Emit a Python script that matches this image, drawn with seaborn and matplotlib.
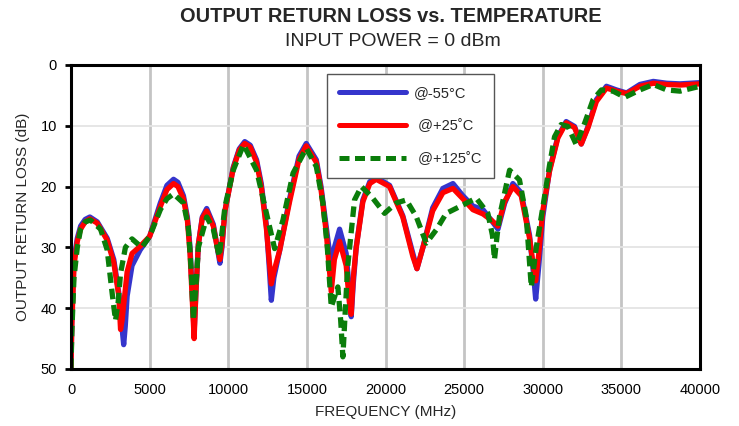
import matplotlib
matplotlib.use("Agg")
import matplotlib.pyplot as plt
import seaborn as sns
import pandas as pd
import numpy as np

# ---------------- data ----------------
freq_m55 = [0, 50, 190, 400, 610, 900, 1200, 1670, 2300, 2720, 3040, 3200, 3350, 3450, 3570, 3880,
            4400, 5000, 5680, 6100, 6520, 6800, 7150, 7400, 7570, 7700, 7830, 7950, 8100, 8350,
            8630, 9050, 9300, 9470, 9600, 9790, 10320, 10700, 11050, 11400, 11800, 12100, 12430,
            12600, 12740, 12900, 13270, 13900, 14500, 14960, 15600, 15900, 16230, 16550, 16750,
            17080, 17500, 17700, 17820, 17950, 18140, 18560, 19000, 19410, 20260, 21100, 21740,
            22000, 22380, 23000, 23650, 24290, 24920, 25560, 26200, 26720, 27150, 27570, 28100,
            28630, 29160, 29400, 29550, 29750, 30000, 30430, 30960, 31490, 32020, 32450, 32880,
            33410, 34050, 34690, 35330, 36180, 37030, 37880, 38730, 40000]
rl_m55 = [50, 42, 32, 28.5, 26.5, 25.4, 25.0, 25.8, 28.5, 32, 37.5, 42, 46, 43, 38, 33,
          30.4, 28.2, 22.7, 19.8, 18.8, 19.3, 21.5, 25, 30, 37, 44, 37, 29.5, 25,
          23.6, 26.2, 30, 32.6, 30, 24, 16.8, 13.8, 12.6, 13.2, 15.6, 19.5, 26.5,
          33, 38.7, 35, 30.5, 22, 15, 12.9, 15.6, 20, 26.6, 33, 30,
          27, 31, 37, 41.4, 36, 29.9, 22.2, 19.2, 18.5, 19.8, 24.8, 31,
          33.5, 30, 23.5, 20.3, 19.5, 21.5, 23.2, 23.8, 25.5, 27, 22.8, 19.5,
          21, 28, 34, 38.5, 33, 25, 17.3, 11.8, 9.3, 10.1, 13, 10.1,
          5.7, 3.5, 4.1, 4.6, 3.2, 2.7, 3.0, 3.1, 2.9]

freq_p25 = [0, 50, 190, 400, 610, 900, 1200, 1670, 2300, 2720, 3040, 3150, 3250, 3450, 3570, 3880,
            4400, 5000, 5680, 6100, 6520, 6800, 7150, 7400, 7570, 7700, 7830, 7950, 8100, 8350,
            8630, 9050, 9300, 9470, 9600, 9790, 10320, 10700, 11050, 11400, 11800, 12100, 12430,
            12600, 12740, 12900, 13270, 13900, 14500, 14960, 15600, 15900, 16230, 16550, 16750,
            17080, 17500, 17700, 17820, 17950, 18140, 18560, 19000, 19410, 20260, 21100, 21740,
            22000, 22380, 23000, 23650, 24290, 24920, 25560, 26200, 26720, 27150, 27570, 28100,
            28630, 29160, 29400, 29550, 29750, 30000, 30430, 30960, 31490, 32020, 32450, 32880,
            33410, 34050, 34690, 35330, 36180, 37030, 37880, 38730, 40000]
rl_p25 = [50, 43, 33, 29, 27, 25.8, 25.3, 26, 28.8, 32.5, 38, 43.5, 42, 37, 34, 31,
          29.8, 28.2, 23.3, 20.5, 19.5, 20, 22, 25.5, 31, 38, 45, 37, 29.5, 25.2,
          24, 26.5, 30, 32, 29.5, 24, 17, 14, 12.9, 13.5, 16, 20, 27,
          32, 36, 34, 30.5, 22.5, 15.5, 13.3, 16, 20.5, 27.5, 37.3, 32,
          29, 33, 39, 41, 35, 30, 22.5, 19.5, 18.8, 20, 25, 31.5,
          33.5, 30, 24, 21, 20.3, 22, 23.8, 24.5, 25.5, 26.5, 22.5, 20,
          21.5, 28.5, 33, 35.5, 31, 24, 17.5, 12, 9.5, 10.3, 13, 10.3,
          6, 3.8, 4.3, 4.7, 3.5, 3.0, 3.2, 3.3, 3.1]

freq_p125 = [0, 50, 190, 400, 610, 900, 1240, 1880, 2300, 2620, 2830, 3000, 3150, 3460, 3880,
             4500, 5000, 5680, 6100, 6520, 7150, 7460, 7650, 7780, 7950, 8100, 8630, 9050, 9430,
             9790, 10320, 10970, 11800, 12430, 12950, 13480, 14120, 14960, 15600, 16020, 16300,
             16550, 16970, 17150, 17290, 17450, 17600, 18030, 18460, 19100, 19940, 20680, 21320,
             21950, 22590, 23230, 23860, 24710, 25770, 26510, 26800, 26930, 27100, 27250, 27890,
             28520, 28950, 29270, 29590, 30010, 30430, 30750, 31170, 31600, 32130, 32660, 33200,
             33730, 34470, 35220, 36180, 37030, 37880, 38730, 40000]
rl_p125 = [50, 44, 35, 30, 27, 25.8, 25.5, 27, 30.4, 37.6, 42, 39, 34.3, 30, 28.6,
           30, 28.2, 23.8, 22, 21.2, 22.7, 26.6, 34, 42, 36, 30, 25, 27, 31.5,
           23.3, 17.3, 13.1, 17.3, 24.4, 30.2, 25.5, 17.8, 13.7, 16.7, 22.7, 30,
           39.8, 36.5, 42, 48, 40, 33, 22.2, 20, 21.6, 24.4, 22.7, 22.2,
           24.9, 29.3, 27.1, 24.4, 23.3, 21.9, 24.4, 28, 32, 28, 24.9, 17.3,
           18.9, 24.9, 36.5, 30, 23.3, 16.5, 11.8, 9.8, 10.1, 13.1, 9.6, 5.7,
           4.1, 4.3, 5.3, 4.1, 3.2, 4.1, 4.3, 3.5]

labels = ["@-55°C", " @+25˚C", " @+125˚C"]
x_ticks = [0, 5000, 10000, 15000, 20000, 25000, 30000, 35000, 40000]
y_ticks = [0, 10, 20, 30, 40, 50]

df = pd.concat([
    pd.DataFrame({"freq": freq_m55, "rl": rl_m55, "temp": labels[0]}),
    pd.DataFrame({"freq": freq_p25, "rl": rl_p25, "temp": labels[1]}),
    pd.DataFrame({"freq": freq_p125, "rl": rl_p125, "temp": labels[2]}),
], ignore_index=True)

# ---------------- plot ----------------
sns.set_theme(style="white")
plt.rcParams["font.family"] = ["Liberation Sans", "DejaVu Sans"]

fig = plt.figure(figsize=(7.39, 4.26), dpi=100)
ax = fig.add_axes([71 / 739, 1 - 369 / 426, 629 / 739, 304 / 426])

palette = {labels[0]: "#3535CC", labels[1]: "#FF0000", labels[2]: "#0A7D0A"}
dashes = {labels[0]: "", labels[1]: "", labels[2]: (2.0, 1.1)}

sns.lineplot(data=df, x="freq", y="rl", hue="temp", style="temp", palette=palette,
             dashes=dashes, estimator=None, sort=False, ax=ax, linewidth=3.8, legend=True)

for line in ax.get_lines():
    line.set_solid_capstyle("round")
    line.set_solid_joinstyle("round")
    line.set_dash_joinstyle("round")

ax.set_xlim(0, 40000)
ax.set_ylim(50, 0)
ax.set_xticks(x_ticks)
ax.set_yticks(y_ticks)
ax.set_xticklabels([str(v) for v in x_ticks], fontsize=10.5)
ax.set_yticklabels([str(v) for v in y_ticks], fontsize=10.5)

ax.grid(False)
for xv in x_ticks[1:-1]:
    ax.axvline(xv, color="#C4C4C4", linewidth=2.0, zorder=0)
for yv in y_ticks[1:-1]:
    ax.axhline(yv, color="#E4E4E4", linewidth=1.3, zorder=0)

for sp in ax.spines.values():
    sp.set_color("black")
    sp.set_linewidth(2.2)
    sp.set_visible(True)

ax.tick_params(axis="x", length=0, pad=10, colors="black")
ax.tick_params(axis="y", length=4, width=2, pad=6, left=True, colors="black")

ax.set_xlabel("FREQUENCY (MHz)", fontsize=11, labelpad=6)
ax.set_ylabel("OUTPUT RETURN LOSS (dB)", fontsize=11, labelpad=8)

fig.text(391 / 739, 1 - 17 / 426, "OUTPUT RETURN LOSS vs. TEMPERATURE", ha="center", va="center",
         fontsize=14.4, fontweight="bold")
fig.text(393 / 739, 1 - 41 / 426, "INPUT POWER = 0 dBm", ha="center", va="center", fontsize=14)

handles, lbls = ax.get_legend_handles_labels()
leg = ax.legend(handles, lbls, loc="upper left", bbox_to_anchor=(0.407, 0.972), frameon=True,
                fancybox=False, edgecolor="#555555", framealpha=1, fontsize=10.5,
                handlelength=4.6, handletextpad=0.5, labelspacing=1.3, borderpad=0.85,
                borderaxespad=0)
leg.get_frame().set_linewidth(1.0)
for h in leg.get_lines():
    h.set_linewidth(3.6)

fig.savefig("out.png", dpi=100)
